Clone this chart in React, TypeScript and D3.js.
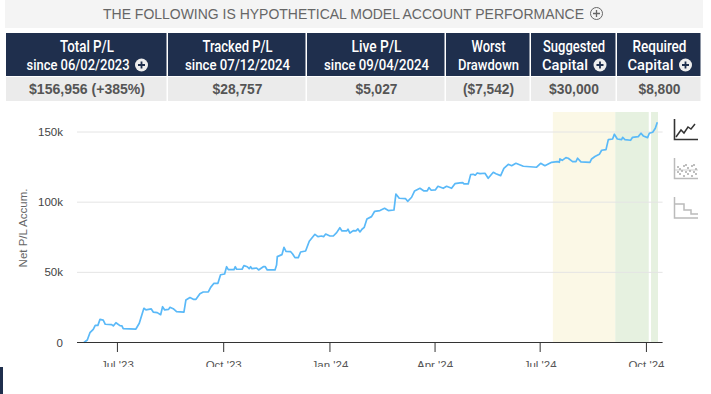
import React, { useMemo } from "react";
import * as d3 from "d3";

// days since 06/02/2023
const days = [0,2.9,5.2,8.1,9.8,12.1,13.9,16.7,18.5,24,25.4,27.7,31.2,32.9,34,45,47.9,51.9,53.7,58.3,60,63.5,66.4,68.1,69.9,73.3,74.5,77.3,80.2,86.6,88.3,91.8,94.7,97,100.4,103.3,107.7,109.7,112.6,116,118.3,121.8,123.5,125,129.9,131,132.2,136.9,138.5,141.4,143.1,144.3,145.5,149.5,151.2,155.3,157,158.7,165.4,166.8,167.4,171.4,173.2,174.9,179,180.7,182.7,185.6,187.6,191.9,195.1,200,202.6,205.8,207.5,209.3,213,215.9,218.8,221.6,223.4,227.4,228.6,230.3,233.2,235.5,237.2,239,240.7,242.7,245,249,251.7,256.3,260.3,263.5,268.4,270.1,273,278.5,280.3,283.7,286.3,290.9,294.4,297.2,298.7,300.7,304.2,306.5,311.1,314,318.3,321.2,325.5,327.9,329,332.7,334.8,337.1,338.8,340.5,342.9,347.2,350,354.4,356.7,360.8,363.6,367.4,370.3,374,380.4,391.9,395.4,399.1,404.9,409.8,411.6,412.1,414.1,417.3,419.3,423.1,426,427.4,430.3,438.1,439.5,442.4,446.2,448.2,452,454,457.7,459.2,461.8,465.5,466.4,468.4,473.3,475,479.9,482.3,484.3,488,489.5,492.4,494.7,496.4];
// net P/L, thousands of dollars
const pnl = [0,1.8,7,9.4,12.2,12.2,16.5,16,13,12.7,11.8,14.1,12,11.8,9.9,9.6,13.7,24.4,23.2,23.9,21.7,21.3,19.8,25.5,23.2,23.6,25.1,24.1,22,21.7,30.3,32,30.8,30.8,34.8,36,36,39.3,42.2,42.2,48.3,48.8,54,51.9,51.9,54,52.2,52.2,54.8,54,52.6,54,52.6,53.1,51.7,54,54,51.7,51.7,55.2,61.2,62.6,67.8,65,64.7,63.1,60.5,60.5,64.5,65.2,72.1,77.1,75.4,75.9,75.4,77.3,75.9,75.9,78.3,81.8,79.5,79.5,80.7,78,79.7,79.5,80.9,78.8,80.7,82.1,88,89.7,93.5,94,95.6,94,94.4,105.8,102.8,102.5,100.6,103.5,108,109.9,108,108,110.4,108.5,108.7,111.3,109.9,111.3,109.9,113.2,113.7,113.9,113,113,119.6,119.9,119.2,120.8,120.3,120.6,117,121.3,120.3,118.9,124.1,127,126,127.7,125.6,124.9,127.7,126,128.4,128.9,128.4,130.8,129.8,131.7,131.3,128.9,128.9,131.3,128.7,128.4,130.8,132.5,134.1,137,137.4,144.6,145,148.4,145,144.6,146.2,144.6,144.1,146.2,146.7,149.1,147.2,146,149.1,149.8,152.7,156.956];
const seriesStart = new Date(2023, 5, 2);
const yTicks = [0, 50, 100, 150];
const xTicks = [new Date(2023,6,1), new Date(2023,9,1), new Date(2024,0,1), new Date(2024,3,1), new Date(2024,6,1), new Date(2024,9,1)];
const trackedBand = [new Date(2024,6,12), new Date(2024,8,4)];
const liveBands = [[new Date(2024,8,4), new Date(2024,9,3)], [new Date(2024,9,5), new Date(2024,9,11)]];

const title = "THE FOLLOWING IS HYPOTHETICAL MODEL ACCOUNT PERFORMANCE";
const columnEdges = [6, 168, 307, 446, 531, 617, 702];
const headLine1 = ["Total P/L", "Tracked P/L", "Live P/L", "Worst", "Suggested", "Required"];
const headLine2 = ["since 06/02/2023", "since 07/12/2024", "since 09/04/2024", "Drawdown", "Capital", "Capital"];
const headPlus = [true, false, false, false, true, true];
const headValues = ["$156,956 (+385%)", "$28,757", "$5,027", "($7,542)", "$30,000", "$8,800"];
const line2Width = [103, 105, 105, 61, 46, 46];
const line1Width = [54, 70, 50, 34, 62, 54];
const valueWidth = [116, 50, 42, 51, 50, 42];

const NAVY = "#1f2f4d";
const HEAD = "Roboto, sans-serif";
const BODY = "'Liberation Sans', Arial, sans-serif";

function Plus({ cx, cy, r = 6.5 }: { cx: number; cy: number; r?: number }) {
  return (
    <g>
      <circle cx={cx} cy={cy} r={r} fill="#eeeeee" />
      <path d={`M${cx - 3.5} ${cy}H${cx + 3.5}M${cx} ${cy - 3.5}V${cy + 3.5}`} stroke={NAVY} strokeWidth={1.8} />
    </g>
  );
}

const iconDots: [number, number][] = [[680,169],[684,166],[688,168],[692,166],[696,169],[678,172],[682,171],[686,172],[690,171],[694,172],[680,174],[684,176],[688,174],[692,176],[696,174],[678,167],[686,165],[694,165]];

export default function App() {
  const x = useMemo(() => d3.scaleTime().domain([new Date(2023,4,27), new Date(2024,9,15)]).range([77, 662.6]), []);
  const y = useMemo(() => d3.scaleLinear().domain([0, 150]).range([342.5, 132]), []);
  const dates = days.map((d) => d3.timeHour.offset(seriesStart, Math.round(d * 24)));
  const line = d3.line<number>().x((_, i) => x(dates[i])).y((v) => y(v)).curve(d3.curveLinear)(pnl) || "";
  const fmtX = d3.timeFormat("%b '%y");
  return (
    <svg width={711} height={394} style={{ position: "absolute", left: 0, top: 0, background: "#fff" }}>
      <defs>
        <clipPath id="labelClip"><rect x={0} y={355} width={711} height={12} /></clipPath>
      </defs>
      <rect x={5} y={0} width={698} height={28} fill="#f4f4f4" />
      <text x={103} y={19} fontFamily={BODY} fontSize={14} fill="#666" textLength={481} lengthAdjust="spacingAndGlyphs">{title}</text>
      <circle cx={596.5} cy={13.5} r={6} fill="none" stroke="#666" strokeWidth={1} />
      <path d="M593 13.5H600M596.5 10V17" stroke="#666" strokeWidth={1.3} />

      {headLine1.map((t, i) => {
        const x0 = columnEdges[i], x1 = columnEdges[i + 1];
        const c = (x0 + x1) / 2;
        const plus = headPlus[i];
        const l2w = line2Width[i];
        const l2x = plus ? c - (l2w + 18) / 2 : c - l2w / 2;
        return (
          <g key={t}>
            <rect x={x0} y={33} width={x1 - x0 - 1.5} height={43} fill={NAVY} />
            <rect x={x0} y={77} width={x1 - x0 - 1.5} height={24} fill="#ebebeb" />
            <text x={c - line1Width[i] / 2} y={51.5} fontFamily={HEAD} fontSize={16.5} fontWeight={500} fill="#fff" textLength={line1Width[i]} lengthAdjust="spacingAndGlyphs">{t}</text>
            <text x={l2x} y={69.5} fontFamily={HEAD} fontSize={15.5} fontWeight={500} fill="#fff" textLength={l2w} lengthAdjust="spacingAndGlyphs">{headLine2[i]}</text>
            {plus && <Plus cx={l2x + l2w + 12} cy={65} />}
            <text x={c - valueWidth[i] / 2} y={94} fontFamily={BODY} fontSize={14.5} fontWeight={700} fill="#555" textLength={valueWidth[i]} lengthAdjust="spacingAndGlyphs">{headValues[i]}</text>
          </g>
        );
      })}

      <rect x={x(trackedBand[0])} y={112} width={x(trackedBand[1]) - x(trackedBand[0])} height={230} fill="#fbf8e6" />
      {liveBands.map(([a, b], i) => (
        <rect key={i} x={x(a)} y={112} width={x(b) - x(a)} height={230} fill="#e6f1e0" />
      ))}

      {yTicks.filter((t) => t > 0).map((t) => (
        <line key={t} x1={77} x2={662.6} y1={y(t)} y2={y(t)} stroke="#e4e4e4" strokeWidth={1} />
      ))}
      {yTicks.map((t) => (
        <text key={t} x={63} y={y(t) + 4} textAnchor="end" fontFamily={BODY} fontSize={11.5} fill="#444">{t === 0 ? "0" : `${t}k`}</text>
      ))}
      <text transform="translate(27,228) rotate(-90)" textAnchor="middle" fontFamily={BODY} fontSize={11.5} fill="#666">Net P/L Accum.</text>

      <path d={line} fill="none" stroke="#5ab9f8" strokeWidth={1.7} strokeLinejoin="round" />

      <line x1={77} x2={662.6} y1={342.5} y2={342.5} stroke="#333" strokeWidth={1} />
      {xTicks.map((t) => (
        <g key={t.getTime()}>
          <line x1={x(t)} x2={x(t)} y1={342.5} y2={352} stroke="#333" strokeWidth={1} />
          <text x={x(t)} y={369} textAnchor="middle" fontFamily={BODY} fontSize={11.5} fill="#555" clipPath="url(#labelClip)">{fmtX(t)}</text>
        </g>
      ))}

      <g fill="none">
        <path d="M674.5 119V139.5H698" stroke="#333" strokeWidth={1.6} />
        <path d="M676 137L681 130L684 133L688 127L691 129L695 124" stroke="#333" strokeWidth={1.5} />
        <path d="M674.5 158V178.5H698" stroke="#bbb" strokeWidth={1.5} />
        <line x1={675} x2={698} y1={170} y2={170} stroke="#ccc" strokeWidth={1} />
        <path d="M674.5 197V218H698" stroke="#bbb" strokeWidth={1.5} />
        <path d="M675 204H684V210H691V214H698" stroke="#bbb" strokeWidth={1.5} />
      </g>
      {iconDots.map(([cx, cy], i) => (
        <circle key={i} cx={cx} cy={cy} r={1} fill="#aaa" />
      ))}

      <rect x={0} y={367} width={3} height={27} fill={NAVY} />
    </svg>
  );
}
